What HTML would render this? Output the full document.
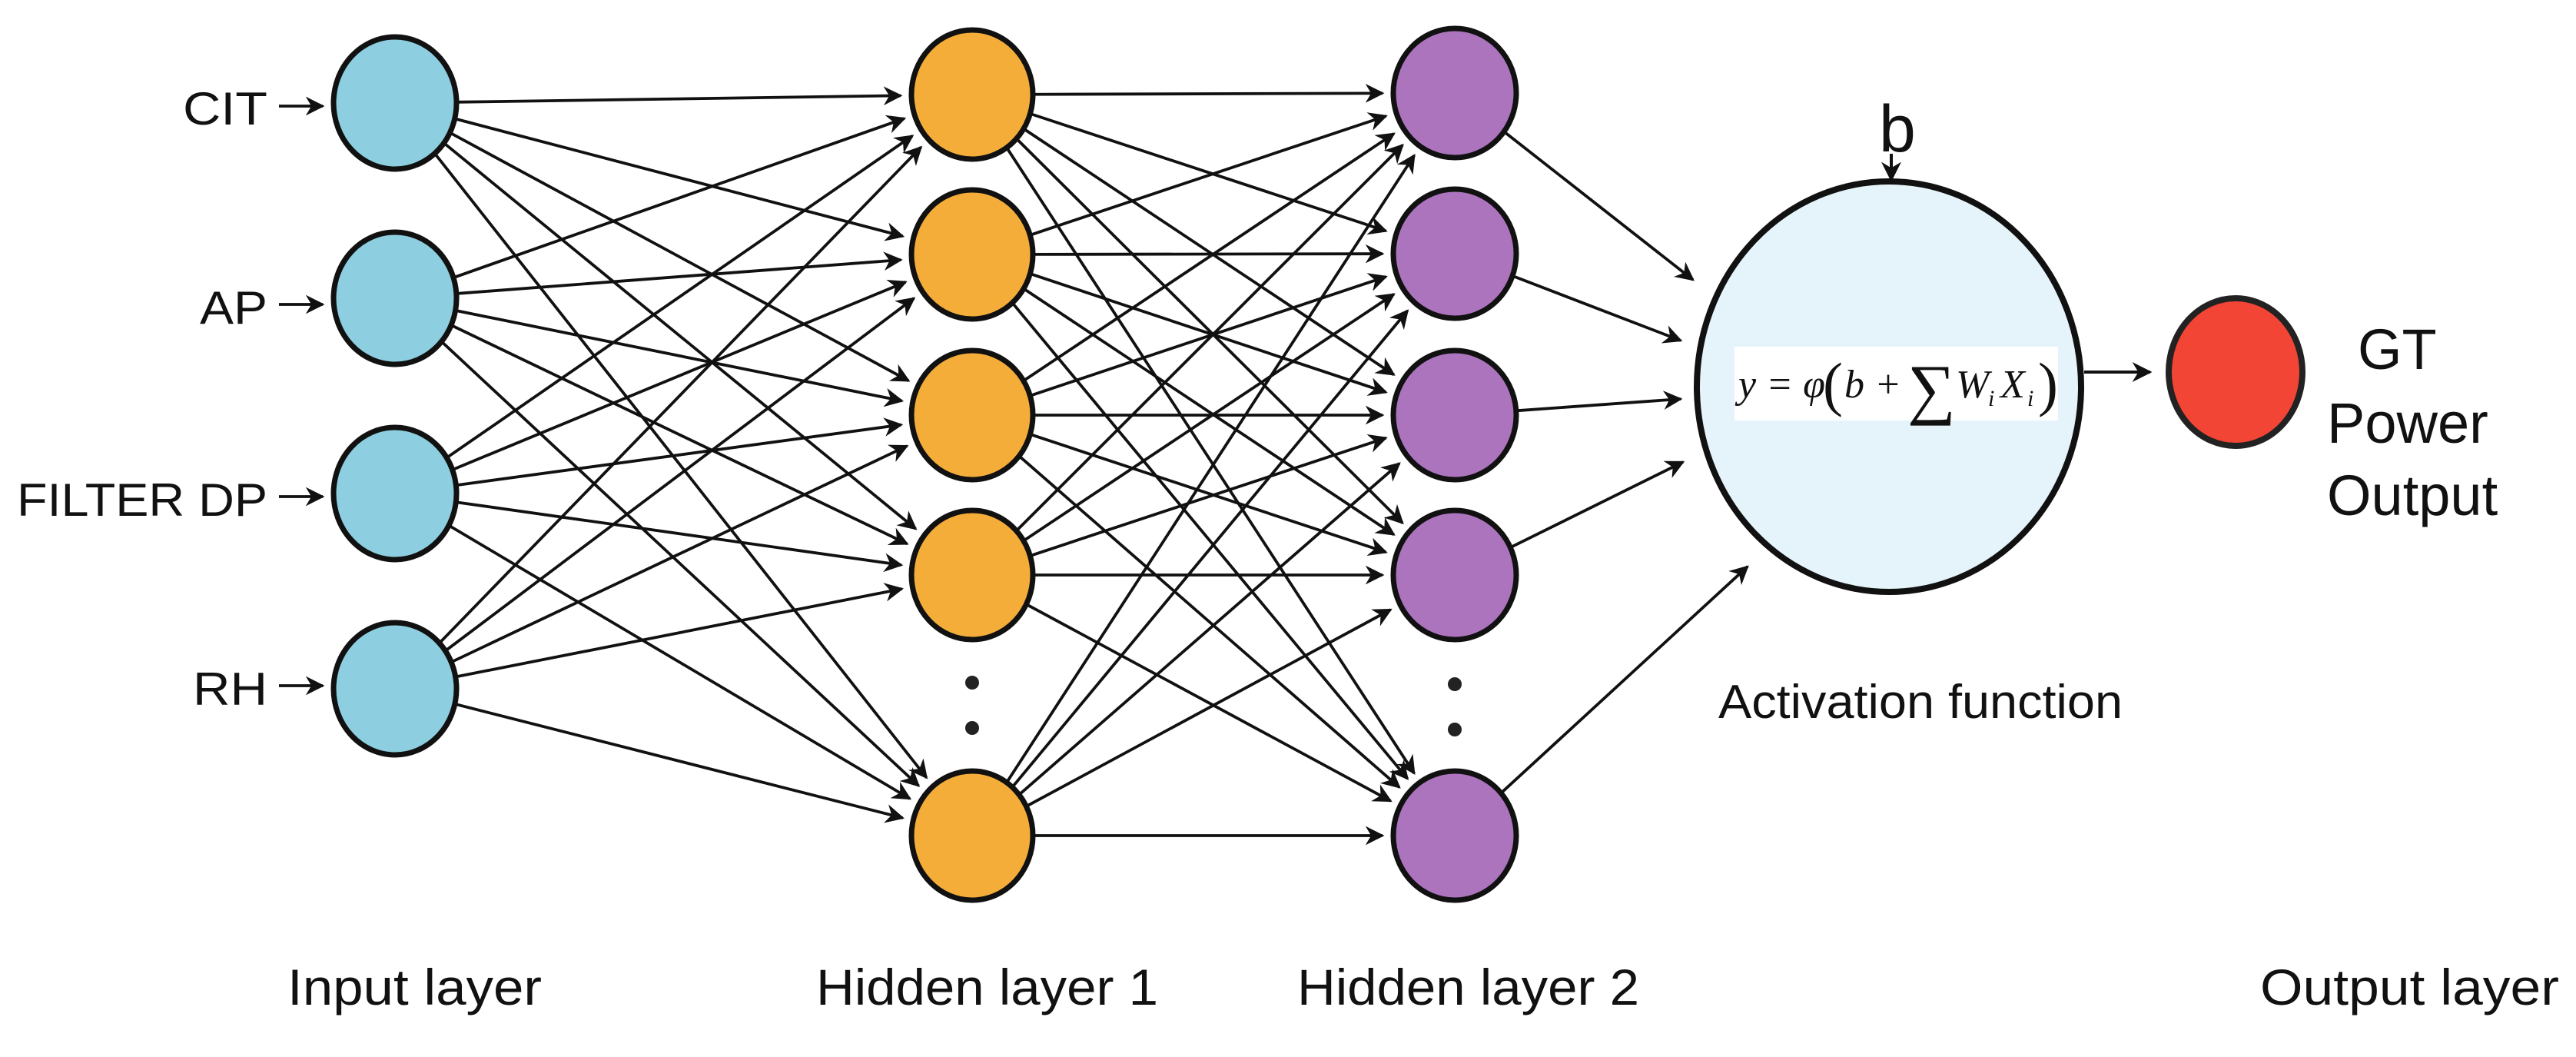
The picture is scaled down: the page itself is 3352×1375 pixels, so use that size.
<!DOCTYPE html>
<html><head><meta charset="utf-8"><style>
html,body{margin:0;padding:0;background:#fff;}
svg{display:block;}
text{font-family:"Liberation Sans","DejaVu Sans",sans-serif;fill:#111;}
</style></head><body>
<svg id="s" width="3352" height="1375" viewBox="0 0 3352 1375" xmlns="http://www.w3.org/2000/svg">
<defs>
<marker id="ah" viewBox="0 0 10 10" refX="9" refY="5" markerWidth="6.5" markerHeight="6.5" orient="auto" markerUnits="strokeWidth">
<path d="M0,0 L10,5 L0,10 L3,5 z" fill="#111"/></marker>
</defs>
<g id="edges" stroke="#111" stroke-width="3.8" fill="none"></g>
<g id="nodes" stroke="#111" stroke-width="7"></g>

<text x="238" y="162" font-size="60" textLength="110" lengthAdjust="spacingAndGlyphs">CIT</text>
<text x="260" y="421" font-size="60" textLength="88" lengthAdjust="spacingAndGlyphs">AP</text>
<text x="22" y="671" font-size="60" textLength="326" lengthAdjust="spacingAndGlyphs">FILTER DP</text>
<text x="251" y="917" font-size="60" textLength="97" lengthAdjust="spacingAndGlyphs">RH</text>

<circle cx="1265" cy="888" r="9" fill="#222"/><circle cx="1265" cy="947" r="9" fill="#222"/>
<circle cx="1893" cy="890" r="9" fill="#222"/><circle cx="1893" cy="949" r="9" fill="#222"/>

<ellipse cx="2458" cy="503" rx="250" ry="267" fill="#E4F4FA" stroke="#111" stroke-width="8"/>
<rect x="2257" y="451" width="421" height="96" fill="#fff"/>
<text x="2262" y="517" font-size="52" style="font-family:'Liberation Serif',serif;font-style:italic" fill="#333">y = φ</text>
<text x="2372" y="526" font-size="78" style="font-family:'Liberation Serif',serif" fill="#333">(</text>
<text x="2400" y="517" font-size="52" style="font-family:'Liberation Serif',serif;font-style:italic" fill="#333">b +</text>
<text x="2482" y="535" font-size="88" style="font-family:'Liberation Serif',serif" fill="#333">∑</text>
<text x="2545" y="517" font-size="52" style="font-family:'Liberation Serif',serif;font-style:italic" fill="#333">W</text>
<text x="2587" y="528" font-size="30" style="font-family:'Liberation Serif',serif;font-style:italic" fill="#333">i</text>
<text x="2603" y="517" font-size="52" style="font-family:'Liberation Serif',serif;font-style:italic" fill="#333">X</text>
<text x="2638" y="528" font-size="30" style="font-family:'Liberation Serif',serif;font-style:italic" fill="#333">i</text>
<text x="2652" y="526" font-size="78" style="font-family:'Liberation Serif',serif" fill="#333">)</text>

<text x="2445" y="197" font-size="86">b</text>
<line x1="2461" y1="200" x2="2461" y2="234" stroke="#111" stroke-width="4" marker-end="url(#ah)"/>

<line x1="2712" y1="484" x2="2798" y2="484" stroke="#111" stroke-width="4" marker-end="url(#ah)"/>
<ellipse cx="2909" cy="484" rx="87" ry="96" fill="#F24535" stroke="#222" stroke-width="8"/>

<text x="3068" y="480" font-size="74">GT</text>
<text x="3028" y="576" font-size="74">Power</text>
<text x="3028" y="670" font-size="74">Output</text>

<text x="2236" y="934" font-size="62" textLength="526" lengthAdjust="spacingAndGlyphs">Activation function</text>

<text x="374" y="1307" font-size="66" textLength="331" lengthAdjust="spacingAndGlyphs">Input layer</text>
<text x="1062" y="1307" font-size="66" textLength="445" lengthAdjust="spacingAndGlyphs">Hidden layer 1</text>
<text x="1688" y="1307" font-size="66" textLength="445" lengthAdjust="spacingAndGlyphs">Hidden layer 2</text>
<text x="2941" y="1307" font-size="66" textLength="389" lengthAdjust="spacingAndGlyphs">Output layer</text>
</svg>
<script>
var NS="http://www.w3.org/2000/svg";
var E=document.getElementById("edges"),N=document.getElementById("nodes");
var inp=[134,388,642,896].map(function(y){return{x:514,y:y,rx:80,ry:86};});
var h1=[123,331,540,748,1087].map(function(y){return{x:1265,y:y,rx:79,ry:84};});
var h2=[121,330,540,748,1087].map(function(y){return{x:1893,y:y,rx:80,ry:84};});
function rim(n,dx,dy){var t=1/Math.sqrt(dx*dx/(n.rx*n.rx)+dy*dy/(n.ry*n.ry));return[n.x+dx*t,n.y+dy*t];}
function line(x1,y1,x2,y2){var l=document.createElementNS(NS,"line");l.setAttribute("x1",x1);l.setAttribute("y1",y1);l.setAttribute("x2",x2);l.setAttribute("y2",y2);l.setAttribute("marker-end","url(#ah)");E.appendChild(l);}
function conn(A,B){A.forEach(function(a){B.forEach(function(b){var dx=b.x-a.x,dy=b.y-a.y;var p=rim(a,dx,dy),q=rim(b,-dx,-dy);var L=Math.hypot(dx,dy);q=[q[0]-dx/L*14,q[1]-dy/L*14];line(p[0],p[1],q[0],q[1]);});});}
conn(inp,h1);conn(h1,h2);
var ends=[[2203,364],[2187,443],[2187,519],[2190,601],[2274,737]];
h2.forEach(function(n,i){var e=ends[i];var dx=e[0]-n.x,dy=e[1]-n.y;var p=rim(n,dx,dy);line(p[0],p[1],e[0],e[1]);});
[4,8,4,-4].forEach(function(o,i){line(363,inp[i].y+o,420,inp[i].y+o);});
function ell(n,f){var e=document.createElementNS(NS,"ellipse");e.setAttribute("cx",n.x);e.setAttribute("cy",n.y);e.setAttribute("rx",n.rx);e.setAttribute("ry",n.ry);e.setAttribute("fill",f);N.appendChild(e);}
inp.forEach(function(n){ell(n,"#8DCFE0");});
h1.forEach(function(n){ell(n,"#F5AD3A");});
h2.forEach(function(n){ell(n,"#AB74BD");});
</script>
</body></html>
